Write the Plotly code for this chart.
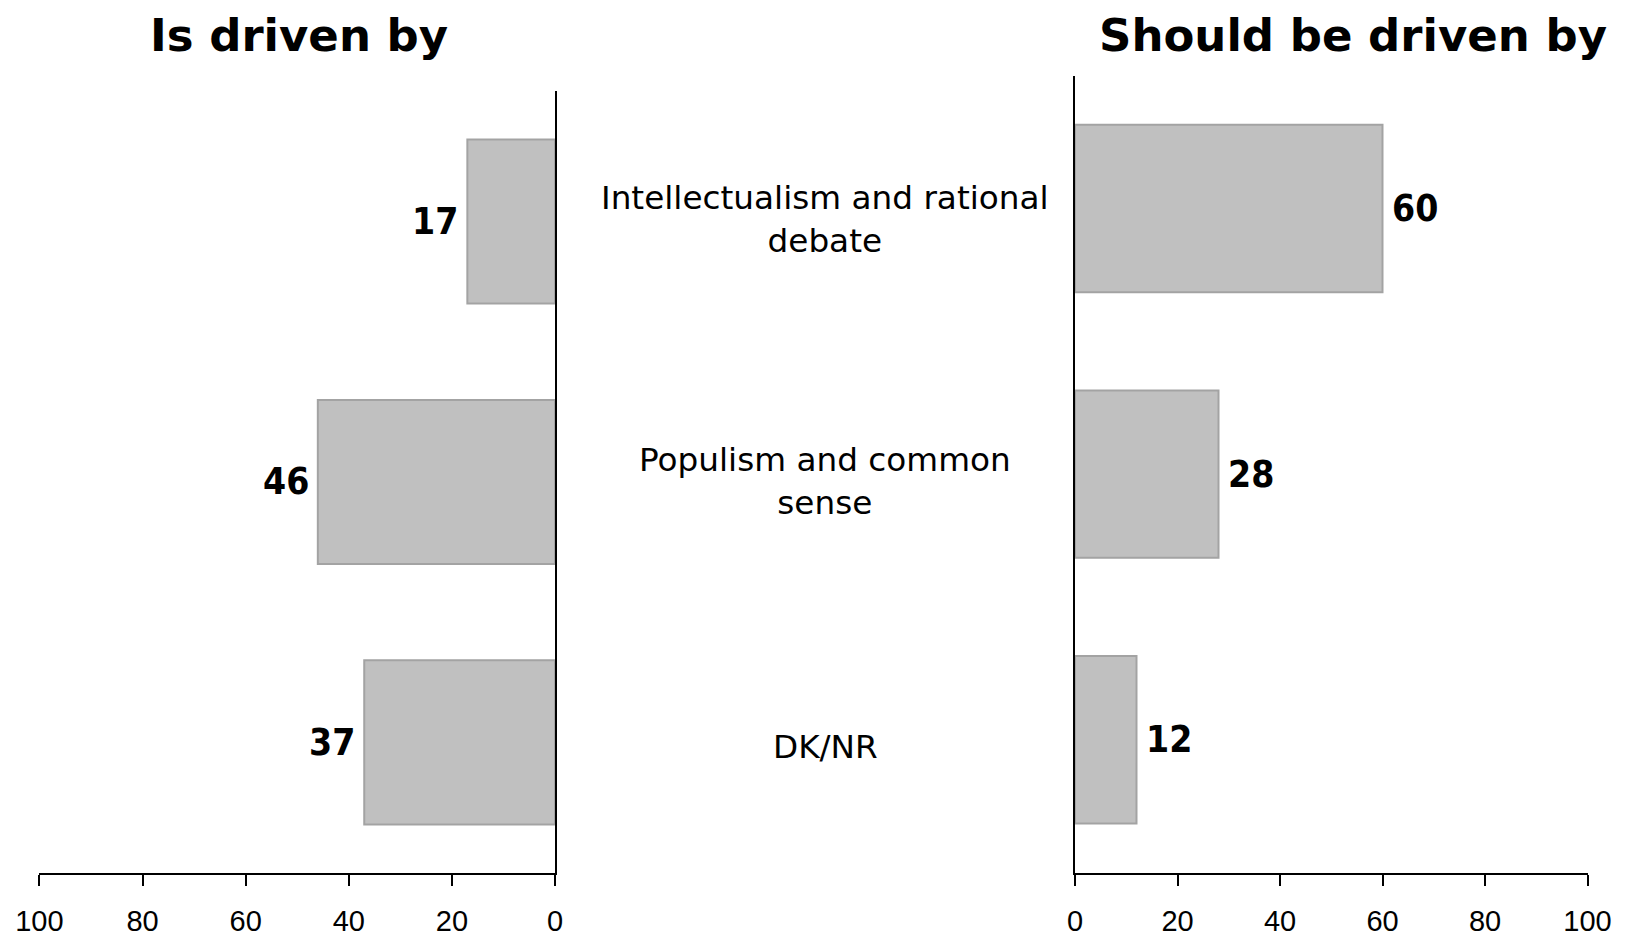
import plotly.graph_objects as go

categories = ["Intellectualism and rational<br>debate", "Populism and common<br>sense", "DK/NR"]
is_driven = [17, 46, 37]
should_be = [60, 28, 12]
tick_vals = [0, 20, 40, 60, 80, 100]
titles = ["Is driven by", "Should be driven by"]

W, H = 1627, 935
OFF = 8  # page body margin offset
BAR_FILL = "#C0C0C0"
BAR_LINE = "#A3A3A3"
LABEL_NUDGE = [2, 0, -5]  # small vertical tweaks (px) for the centre labels


def px(x):
    return (x - OFF) / W


def py(y):
    return 1 - (y - OFF) / H


fig = go.Figure()
fig.add_trace(go.Bar(
    y=list(range(3)), x=is_driven, orientation="h", xaxis="x", yaxis="y",
    marker=dict(color=BAR_FILL, line=dict(color=BAR_LINE, width=2)),
    width=0.63, showlegend=False, hoverinfo="skip"))
fig.add_trace(go.Bar(
    y=list(range(3)), x=should_be, orientation="h", xaxis="x2", yaxis="y2",
    marker=dict(color=BAR_FILL, line=dict(color=BAR_LINE, width=2)),
    width=0.63, showlegend=False, hoverinfo="skip"))

ann = []
lab_font = dict(family="DejaVu Sans Condensed, DejaVu Sans", size=37, color="black", weight="bold")
for i, v in enumerate(is_driven):
    ann.append(dict(x=v, y=i, xref="x", yref="y", text=f"<b>{v}</b>", showarrow=False,
                    xanchor="right", yanchor="middle", xshift=-7, font=lab_font))
for i, v in enumerate(should_be):
    ann.append(dict(x=v, y=i, xref="x2", yref="y2", text=f"<b>{v}</b>", showarrow=False,
                    xanchor="left", yanchor="middle", xshift=7, font=lab_font))
for i, c in enumerate(categories):
    ann.append(dict(x=px(825), y=i, xref="paper", yref="y", text=c, showarrow=False,
                    xanchor="center", yanchor="middle", yshift=LABEL_NUDGE[i],
                    font=dict(family="DejaVu Sans", size=32.7, color="black")))
title_font = dict(family="DejaVu Sans", size=45, color="black", weight="bold")
ann.append(dict(x=px(299), y=1, xref="paper", yref="paper", text=f"<b>{titles[0]}</b>",
                showarrow=False, xanchor="center", yanchor="top", borderpad=0, font=title_font))
ann.append(dict(x=px(1352.5), y=1, xref="paper", yref="paper", text=f"<b>{titles[1]}</b>",
                showarrow=False, xanchor="center", yanchor="top", borderpad=0, font=title_font))

xcommon = dict(showgrid=False, zeroline=False, showline=True, linecolor="black", linewidth=2,
               ticks="outside", ticklen=11, tickwidth=2, tickcolor="black",
               tickvals=tick_vals, ticktext=[str(t) for t in tick_vals],
               tickfont=dict(family="Liberation Sans, Arial", size=29, color="black"),
               ticklabelstandoff=11, fixedrange=True, automargin=False)
ycommon = dict(showgrid=False, zeroline=False, showline=True, linecolor="black", linewidth=2,
               showticklabels=False, ticks="", range=[2.5, -0.5], fixedrange=True, automargin=False)

fig.update_layout(
    width=W, height=H, margin=dict(l=0, r=0, t=0, b=0, autoexpand=False),
    paper_bgcolor="white", plot_bgcolor="white",
    xaxis=dict(domain=[px(39.4), px(555)], range=[100, 0], anchor="y", **xcommon),
    xaxis2=dict(domain=[px(1075), px(1587.5)], range=[0, 100], anchor="y2", **xcommon),
    yaxis=dict(domain=[py(872.6), py(91.3)], anchor="x", side="right", **ycommon),
    yaxis2=dict(domain=[py(872.6), py(75.7)], anchor="x2", side="left", **ycommon),
    annotations=ann, barmode="overlay",
)

fig.write_html("out.html")
